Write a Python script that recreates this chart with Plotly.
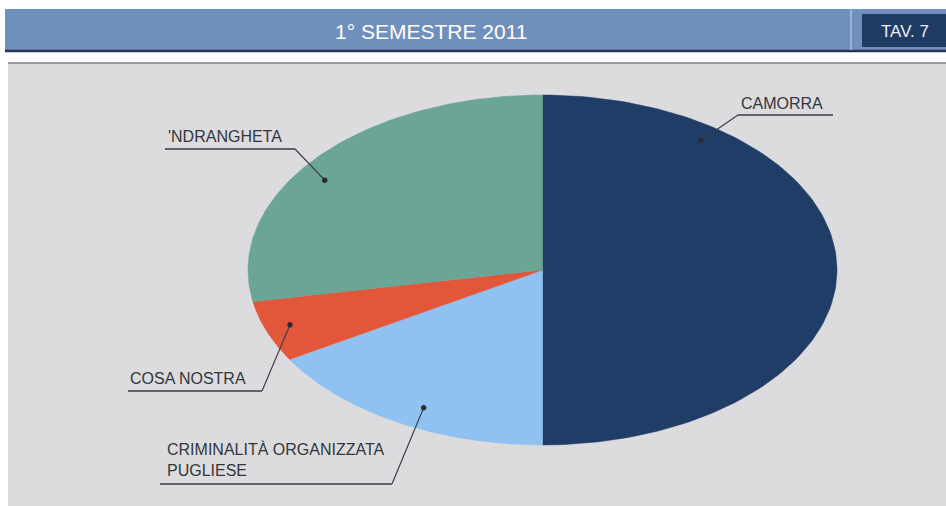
import numpy as np
import plotly.graph_objects as go

# ---- data ----
title = "1° SEMESTRE 2011"
table_tag = "TAV. 7"
categories = ["CAMORRA", "CRIMINALITÀ ORGANIZZATA<br>PUGLIESE", "COSA NOSTRA", "'NDRANGHETA"]
values = [50.0, 16.4, 5.7, 27.9]
colors = ["#1f3d66", "#8fc2f0", "#e2573a", "#6ba596"]

# ---- geometry (pixel space) ----
W, H = 946, 506
cx, cy, ra, rb = 542.5, 270.0, 294.5, 175.0

fig = go.Figure()

total = sum(values)
start = 0.0
spans = []
for cat, v, col in zip(categories, values, colors):
    a0 = start / total * 2 * np.pi
    a1 = (start + v) / total * 2 * np.pi
    t = np.linspace(a0, a1, 120)
    xs = np.concatenate([[cx], cx + ra * np.sin(t), [cx]])
    ys = np.concatenate([[cy], cy - rb * np.cos(t), [cy]])
    fig.add_trace(go.Scatter(x=xs, y=ys, mode="lines", fill="toself",
                             fillcolor=col, line=dict(color=col, width=0.5),
                             hoverinfo="text", text=cat.replace("<br>", " "),
                             showlegend=False))
    spans.append((a0, a1))
    start += v

# label placement
label_specs = [
    dict(tx=739, ty=114, ux0=738, ux1=833, uy=115, jx=738, af=0.20, rf=0.915),
    dict(tx=165, ty=481, ux0=160, ux1=392, uy=484, jx=392, af=0.46, rf=0.884),
    dict(tx=128, ty=389, ux0=128, ux1=262, uy=391, jx=262, af=0.53, rf=0.913),
    dict(tx=166, ty=147, ux0=165, ux1=295, uy=149, jx=295, af=0.45, rf=0.90),
]

FONT = "Liberation Sans, Arial, sans-serif"
line_col = "#3a3d42"
shapes = []
annotations = []

# backgrounds
shapes.append(dict(type="rect", xref="x", yref="y", x0=8, x1=W, y0=62, y1=H,
                   fillcolor="#dcdcdf", line=dict(width=0), layer="below"))
shapes.append(dict(type="line", xref="x", yref="y", x0=8, x1=W, y0=63, y1=63,
                   line=dict(color="#9a9ca2", width=2), layer="below"))
shapes.append(dict(type="rect", xref="x", yref="y", x0=5, x1=W, y0=9, y1=52,
                   fillcolor="#6f8fbd", line=dict(width=0), layer="below"))
shapes.append(dict(type="line", xref="x", yref="y", x0=5, x1=W, y0=51, y1=51,
                   line=dict(color="#26364f", width=2.5), layer="below"))
shapes.append(dict(type="line", xref="x", yref="y", x0=851, x1=851, y0=9, y1=50,
                   line=dict(color="#a9bedb", width=1.5), layer="below"))
shapes.append(dict(type="rect", xref="x", yref="y", x0=862, x1=W, y0=14, y1=47,
                   fillcolor="#1f3b63", line=dict(width=0), layer="below"))

annotations.append(dict(x=431, y=31, xref="x", yref="y", text=title, showarrow=False,
                        font=dict(family=FONT, size=21, color="white"),
                        xanchor="center", yanchor="middle"))
annotations.append(dict(x=905, y=31, xref="x", yref="y", text=table_tag, showarrow=False,
                        font=dict(family=FONT, size=17, color="#e8eef6"),
                        xanchor="center", yanchor="middle"))

for cat, (a0, a1), sp in zip(categories, spans, label_specs):
    am = a0 + sp["af"] * (a1 - a0)
    dx = cx + sp["rf"] * ra * np.sin(am)
    dy = cy - sp["rf"] * rb * np.cos(am)
    shapes.append(dict(type="line", xref="x", yref="y", x0=sp["ux0"], x1=sp["ux1"],
                       y0=sp["uy"], y1=sp["uy"], line=dict(color=line_col, width=1.5)))
    shapes.append(dict(type="line", xref="x", yref="y", x0=sp["jx"], x1=dx,
                       y0=sp["uy"], y1=dy, line=dict(color=line_col, width=1.2)))
    shapes.append(dict(type="circle", xref="x", yref="y", x0=dx - 2.5, x1=dx + 2.5,
                       y0=dy - 2.5, y1=dy + 2.5, fillcolor="#2a2c30",
                       line=dict(color="#2a2c30", width=0.5)))
    annotations.append(dict(x=sp["tx"], y=sp["ty"], xref="x", yref="y", text=cat,
                            showarrow=False, align="left", xanchor="left", yanchor="bottom",
                            font=dict(family=FONT, size=16, color="#33363b")))

fig.update_layout(
    width=W, height=H,
    margin=dict(l=0, r=0, t=0, b=0),
    paper_bgcolor="white", plot_bgcolor="rgba(0,0,0,0)",
    xaxis=dict(range=[0, W], visible=False, fixedrange=True),
    yaxis=dict(range=[H, 0], visible=False, fixedrange=True),
    shapes=shapes, annotations=annotations, showlegend=False,
)

fig.write_html("out.html", config={"displayModeBar": False},
               post_script="document.body.style.margin='0';document.body.style.padding='0';")
